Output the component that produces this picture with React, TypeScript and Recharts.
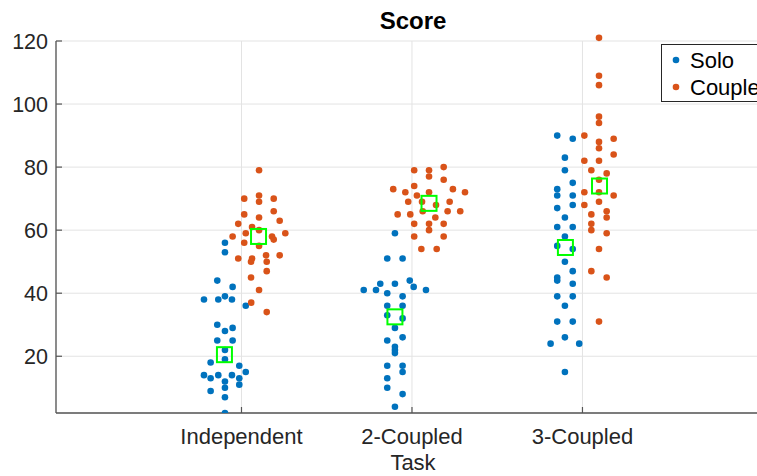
import React from 'react';
import {
  ScatterChart,
  Scatter,
  XAxis,
  YAxis,
  CartesianGrid,
  Legend,
  ReferenceDot,
} from 'recharts';

// Task categories on the x axis (positions 1, 2, 3)
const categories = ['Independent', '2-Coupled', '3-Coupled'];
const categoryPositions = [1, 2, 3];
const yTicks = [20, 40, 60, 80, 100, 120];

// Solo scores per task, with the swarm's horizontal spread (offset from the task position)
const soloIndepScore = [56, 53, 44, 42, 39, 38, 38, 38, 36, 30, 29, 28, 25, 25, 22, 19, 18, 17, 15, 14, 14, 14, 13, 13, 12, 11, 10, 9, 7, 2];
const soloIndepDx = [-0.097, -0.097, -0.142, -0.052, -0.097, -0.22, -0.136, -0.056, 0.025, -0.142, -0.052, -0.097, -0.142, -0.052, -0.097, -0.097, -0.181, -0.013, 0.025, -0.22, -0.136, -0.056, -0.181, -0.013, -0.097, -0.013, -0.097, -0.181, -0.097, -0.097];

const solo2Score = [59, 51, 51, 44, 43, 43, 42, 41, 41, 41, 40, 39, 36, 36, 33, 32, 29, 26, 25, 23, 22, 21, 17, 17, 15, 13, 10, 8, 4];
const solo2Dx = [-0.1, -0.145, -0.055, -0.013, -0.186, -0.1, 0.01, -0.283, -0.211, 0.082, -0.145, -0.055, -0.145, -0.055, -0.145, -0.055, -0.1, -0.055, -0.145, -0.1, -0.1, -0.1, -0.145, -0.055, -0.055, -0.145, -0.145, -0.055, -0.1];

const solo3Score = [90, 89, 83, 79, 75, 73, 71, 71, 68, 67, 64, 61, 61, 58, 55, 54, 50, 47, 45, 44, 43, 39, 39, 36, 31, 31, 26, 24, 24, 15];
const solo3Dx = [-0.148, -0.057, -0.103, -0.103, -0.057, -0.148, -0.148, -0.057, -0.057, -0.148, -0.103, -0.148, -0.057, -0.103, -0.148, -0.057, -0.103, -0.057, -0.148, -0.148, -0.057, -0.148, -0.057, -0.103, -0.148, -0.057, -0.103, -0.187, -0.019, -0.103];

// Coupled scores per task
const coupledIndepScore = [79, 71, 70, 70, 69, 66, 65, 64, 63, 62, 61, 60, 59, 59, 58, 58, 57, 56, 55, 52, 52, 51, 51, 50, 50, 47, 45, 41, 37, 34];
const coupledIndepDx = [0.103, 0.103, 0.016, 0.189, 0.103, 0.189, 0.016, 0.103, 0.224, -0.019, 0.062, 0.103, 0.025, 0.257, -0.052, 0.179, 0.189, 0.016, 0.103, 0.144, 0.224, -0.019, 0.062, 0.056, 0.148, 0.148, 0.056, 0.103, 0.057, 0.148];

const coupled2Score = [80, 79, 79, 77, 76, 74, 73, 73, 72, 72, 72, 71, 69, 69, 69, 68, 66, 66, 66, 65, 65, 64, 62, 62, 62, 60, 58, 58, 54, 54];
const coupled2Dx = [0.186, 0.013, 0.1, 0.1, 0.186, 0.013, -0.11, 0.24, -0.039, 0.1, 0.311, 0.029, -0.022, 0.059, 0.221, 0.141, 0.063, 0.209, 0.283, -0.084, -0.01, 0.137, 0.013, 0.1, 0.186, 0.1, 0.013, 0.186, 0.055, 0.145];

const coupled3Score = [121, 109, 106, 96, 94, 90, 89, 88, 86, 84, 82, 82, 79, 78, 76, 72, 72, 71, 69, 68, 66, 65, 64, 62, 60, 59, 54, 47, 45, 31];
const coupled3Dx = [0.097, 0.097, 0.097, 0.097, 0.097, 0.011, 0.183, 0.097, 0.097, 0.183, 0.011, 0.097, 0.052, 0.142, 0.097, 0.011, 0.097, 0.183, 0.097, 0.011, 0.142, 0.052, 0.142, 0.052, 0.052, 0.142, 0.097, 0.052, 0.142, 0.097];

// Median score of each group
const soloMedian = [20.5, 32.5, 54.5];
const coupledMedian = [58, 68.5, 74];
const GROUP_SHIFT = 0.1;

const Y_MIN = 2;
const Y_MAX = 120;
const X_DOMAIN: [number, number] = [-0.088, 4.1];

const SOLO_COLOR = '#0072BD';
const COUPLED_COLOR = '#D95319';
const MEDIAN_COLOR = '#00FF00';
const AXIS_COLOR = '#555555';
const TEXT_COLOR = '#262626';
const FONT = '"Liberation Sans", Arial, Helvetica, sans-serif';

type Pt = { x: number; y: number };

const toPoints = (pos: number, scores: number[], dx: number[]): Pt[] =>
  scores.map((y, i) => ({ x: pos + dx[i], y }));

const soloPoints: Pt[] = [
  ...toPoints(categoryPositions[0], soloIndepScore, soloIndepDx),
  ...toPoints(categoryPositions[1], solo2Score, solo2Dx),
  ...toPoints(categoryPositions[2], solo3Score, solo3Dx),
];
const coupledPoints: Pt[] = [
  ...toPoints(categoryPositions[0], coupledIndepScore, coupledIndepDx),
  ...toPoints(categoryPositions[1], coupled2Score, coupled2Dx),
  ...toPoints(categoryPositions[2], coupled3Score, coupled3Dx),
];
const medianPoints: Pt[] = [
  ...soloMedian.map((y, i) => ({ x: categoryPositions[i] - GROUP_SHIFT, y })),
  ...coupledMedian.map((y, i) => ({ x: categoryPositions[i] + GROUP_SHIFT, y })),
];

const inRange = (p: Pt) => p.y <= Y_MAX;
const overflow = (p: Pt) => p.y > Y_MAX;

const series = [
  { name: 'Solo', color: SOLO_COLOR, points: soloPoints },
  { name: 'Couple', color: COUPLED_COLOR, points: coupledPoints },
];

const DOT_R = 3.3;

const makeDot = (color: string) => (props: any) => (
  <circle cx={props.cx} cy={props.cy} r={DOT_R} fill={color} />
);

const MedianSquare = (props: any) => (
  <rect
    x={props.cx - 7.5}
    y={props.cy - 7.5}
    width={15}
    height={15}
    fill="none"
    stroke={MEDIAN_COLOR}
    strokeWidth={2}
  />
);

const Y_TICK_MARGIN = 8;
const TICK_LEN = 6;

const YTick = (props: any) => {
  const { x, y, payload } = props;
  const axisX = x + Y_TICK_MARGIN;
  return (
    <g>
      <line x1={axisX} x2={axisX + TICK_LEN} y1={y} y2={y} stroke={AXIS_COLOR} strokeWidth={1.2} />
      <text x={x} y={y} dy="0.355em" textAnchor="end" fill={TEXT_COLOR} fontSize={21.5} fontFamily={FONT}>
        {payload.value}
      </text>
    </g>
  );
};

const XTick = (props: any) => {
  const { x, y, payload } = props;
  const idx = categoryPositions.indexOf(payload.value);
  return (
    <g>
      <line x1={x} x2={x} y1={y} y2={y - TICK_LEN} stroke={AXIS_COLOR} strokeWidth={1.2} />
      <text x={x} y={y + 31} textAnchor="middle" fill={TEXT_COLOR} fontSize={22} fontFamily={FONT}>
        {idx >= 0 ? categories[idx] : ''}
      </text>
    </g>
  );
};

const LegendBox = () => (
  <div
    style={{
      width: 130,
      height: 58,
      boxSizing: 'border-box',
      border: `1px solid ${TEXT_COLOR}`,
      background: '#fff',
    }}
  >
    <svg width={130} height={56} style={{ display: 'block' }}>
      {series.map((s, i) => (
        <g key={s.name}>
          <circle cx={14} cy={15 + i * 27} r={DOT_R} fill={s.color} />
          <text
            x={28}
            y={15 + i * 27}
            dy="0.355em"
            fill="#000"
            fontSize={22}
            fontFamily={FONT}
          >
            {s.name}
          </text>
        </g>
      ))}
    </svg>
  </div>
);

const CHART_W = 800;
const CHART_H = 476;

export default function App() {
  return (
    <div
      style={{
        position: 'fixed',
        left: 0,
        top: 0,
        width: 757,
        height: 476,
        overflow: 'hidden',
        background: '#fff',
      }}
    >
      <ScatterChart
        width={CHART_W}
        height={CHART_H}
        margin={{ top: 41, right: 30, bottom: 0, left: 0 }}
      >
        <CartesianGrid stroke="#e3e3e3" strokeWidth={1} />
        <XAxis
          type="number"
          dataKey="x"
          domain={X_DOMAIN}
          allowDataOverflow
          ticks={categoryPositions}
          interval={0}
          height={63}
          tickSize={0}
          tickMargin={0}
          tickLine={false}
          tick={<XTick />}
          axisLine={{ stroke: AXIS_COLOR, strokeWidth: 1.3 }}
        />
        <YAxis
          type="number"
          dataKey="y"
          domain={[Y_MIN, Y_MAX]}
          allowDataOverflow
          ticks={yTicks}
          interval={0}
          width={56}
          tickSize={0}
          tickMargin={Y_TICK_MARGIN}
          tickLine={false}
          tick={<YTick />}
          axisLine={{ stroke: AXIS_COLOR, strokeWidth: 1.3 }}
        />
        {series.map((s) => (
          <Scatter
            key={s.name}
            name={s.name}
            data={s.points.filter(inRange)}
            fill={s.color}
            shape={makeDot(s.color)}
            isAnimationActive={false}
          />
        ))}
        {series.map((s) =>
          s.points.filter(overflow).map((p, i) => (
            <ReferenceDot
              key={`${s.name}-over-${i}`}
              x={p.x}
              y={p.y}
              r={DOT_R}
              fill={s.color}
              stroke="none"
              ifOverflow="visible"
            />
          ))
        )}
        <Scatter
          name="Median"
          data={medianPoints}
          shape={MedianSquare}
          isAnimationActive={false}
          legendType="none"
        />
        <Legend
          layout="vertical"
          align="center"
          verticalAlign="middle"
          wrapperStyle={{ position: 'absolute', left: 661, top: 44, width: 130, height: 58 }}
          content={<LegendBox />}
        />
      </ScatterChart>
      <svg
        width={757}
        height={476}
        style={{ position: 'absolute', left: 0, top: 0, pointerEvents: 'none' }}
      >
        <text x={413} y={29} textAnchor="middle" fontSize={24} fontWeight="bold" fill="#000" fontFamily={FONT}>
          Score
        </text>
        <text x={413} y={470} textAnchor="middle" fontSize={22} fill={TEXT_COLOR} fontFamily={FONT}>
          Task
        </text>
      </svg>
    </div>
  );
}
